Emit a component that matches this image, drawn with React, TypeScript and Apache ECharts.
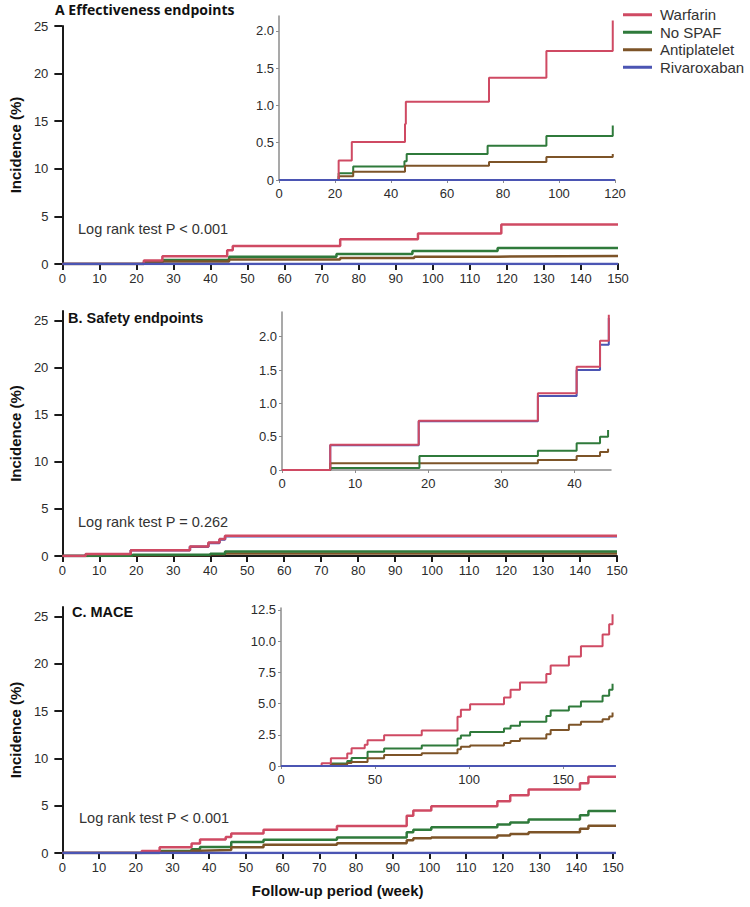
import React, { useEffect, useRef } from 'react';
import * as echarts from 'echarts';

// ---------- data ----------
const seriesNames = ['Warfarin', 'No SPAF', 'Antiplatelet', 'Rivaroxaban'];
const seriesColors = ['#cf4a63', '#2f7a3b', '#7d5428', '#4b55b3'];

const mainXTicks = [0, 10, 20, 30, 40, 50, 60, 70, 80, 90, 100, 110, 120, 130, 140, 150];
const mainYTicks = [0, 5, 10, 15, 20, 25];
const insetAXTicks = [0, 20, 40, 60, 80, 100, 120];
const insetAYTicks = [0, 0.5, 1.0, 1.5, 2.0];
const insetBXTicks = [0, 10, 20, 30, 40];
const insetBYTicks = [0, 0.5, 1.0, 1.5, 2.0];
const insetCXTicks = [0, 50, 100, 150];
const insetCYTicks = [0, 2.5, 5.0, 7.5, 10.0, 12.5];

// Panel A – effectiveness endpoints (main, weeks 0–150)
const aWarfarin = [[0, 0], [22, 0.38], [27, 0.82], [44.5, 1.45], [46, 1.9], [75, 2.6], [96, 3.2], [118.5, 4.15], [150, 4.15]];
const aNoSpaf = [[0, 0], [22, 0.2], [27, 0.42], [45, 0.75], [74, 1.05], [94.5, 1.37], [117.5, 1.68], [150, 1.68]];
const aAntiplatelet = [[0, 0], [22, 0.12], [27, 0.25], [45, 0.48], [75, 0.63], [95, 0.77], [117.5, 0.84], [150, 0.84]];
const aRivaroxaban = [[0, 0], [150, 0]];

// Panel A – inset (weeks 0–120)
const aiWarfarin = [[0, 0], [21.3, 0.26], [26, 0.51], [45, 0.75], [45.3, 1.05], [75, 1.37], [95.5, 1.73], [119.2, 2.14]];
const aiNoSpaf = [[0, 0], [21.3, 0.09], [26.5, 0.18], [44.8, 0.25], [45.6, 0.35], [74.5, 0.46], [95.5, 0.59], [119.2, 0.73]];
const aiAntiplatelet = [[0, 0], [21.3, 0.05], [26.5, 0.11], [45, 0.19], [75, 0.24], [95.5, 0.31], [119.2, 0.35]];
const aiRivaroxaban = [[0, 0], [120, 0]];

// Panel B – safety endpoints (main)
const bWarfarin = [[0, 0], [6.3, 0.2], [18.5, 0.62], [34.5, 1.0], [39.5, 1.42], [42.5, 1.8], [44, 2.15], [150, 2.15]];
const bNoSpaf = [[0, 0], [7, 0.03], [19, 0.12], [40, 0.25], [44, 0.48], [150, 0.48]];
const bAntiplatelet = [[0, 0], [7, 0.08], [19, 0.1], [40, 0.18], [44, 0.26], [150, 0.26]];
const bRivaroxaban = [[0, 0], [6.3, 0.19], [18.5, 0.6], [34.5, 0.97], [39.5, 1.38], [42.5, 1.75], [44, 2.1], [150, 2.1]];

// Panel B – inset (weeks 0–45)
const biWarfarin = [[0, 0], [6.6, 0.38], [18.7, 0.74], [35, 1.15], [40.3, 1.55], [43.5, 1.94], [44.7, 2.33]];
const biNoSpaf = [[0, 0], [6.6, 0.03], [18.8, 0.21], [35, 0.29], [40.3, 0.4], [43.5, 0.5], [44.6, 0.6]];
const biAntiplatelet = [[0, 0], [6.6, 0.1], [18.8, 0.1], [35, 0.15], [40.3, 0.21], [43.5, 0.27], [44.6, 0.32]];
const biRivaroxaban = [[0, 0], [6.6, 0.37], [18.7, 0.73], [35, 1.11], [40.3, 1.5], [43.5, 1.88], [44.7, 2.28]];

// Panel C – MACE (main shows weeks 0–150, inset shows the full follow-up)
const cWarfarin = [[0, 0], [21.6, 0.22], [26.5, 0.62], [35.2, 1.0], [37.5, 1.42], [44.5, 1.7], [46, 2.06], [54.8, 2.47], [74.8, 2.85], [93.8, 3.95], [95.6, 4.5], [100.5, 4.95], [118.5, 5.48], [122, 6.1], [127, 6.7], [141, 7.38], [143.3, 8.06], [153, 8.78], [159.4, 9.6], [170.9, 10.54], [174.4, 11.35], [176.2, 12.15]];
const cNoSpaf = [[0, 0], [26.5, 0.2], [35.2, 0.4], [37.5, 0.64], [46, 1.15], [54.8, 1.4], [74.8, 1.65], [93.8, 2.2], [95.6, 2.45], [100.5, 2.72], [118.5, 3.0], [122, 3.22], [127, 3.55], [141, 4.0], [143.3, 4.45], [153, 4.76], [159.4, 5.17], [170.9, 5.63], [174.4, 6.1], [176.2, 6.6]];
const cAntiplatelet = [[0, 0], [26.5, 0.12], [35.2, 0.25], [37.5, 0.32], [46, 0.62], [54.8, 0.88], [74.8, 1.02], [93.8, 1.35], [95.6, 1.55], [100.5, 1.65], [118.5, 1.85], [122, 2.0], [127, 2.2], [141, 2.55], [143.3, 2.88], [153, 3.3], [159.4, 3.55], [170.9, 3.75], [174.4, 3.96], [176.2, 4.28]];
const cRivaroxaban = [[0, 0], [178, 0]];

const panelTitles = ['A Effectiveness endpoints', 'B. Safety endpoints', 'C. MACE'];
const logRankTexts = ['Log rank test P < 0.001', 'Log rank test P = 0.262', 'Log rank test P < 0.001'];
const yAxisTitle = 'Incidence (%)';
const xAxisTitle = 'Follow-up period (week)';

// ---------- helpers ----------
const FONT = '"Liberation Sans", Arial, sans-serif';
const fmtInset = (v: number) => (v === 0 ? '0' : v.toFixed(1));

function mainX(gridIndex: number, withName: boolean) {
  return {
    type: 'value', gridIndex, min: 0, max: 150, interval: 10,
    splitLine: { show: false },
    axisLine: { show: true, lineStyle: { color: '#1a1a1a', width: 2 } },
    axisTick: { show: true, length: 6, customValues: mainXTicks, lineStyle: { color: '#1a1a1a', width: 2 } },
    axisLabel: { color: '#2b2b2b', fontSize: 13, fontFamily: FONT, margin: 8, customValues: mainXTicks },
    name: withName ? xAxisTitle : '',
    nameLocation: 'middle', nameGap: 30,
    nameTextStyle: { color: '#111', fontSize: 15, fontWeight: 'bold', fontFamily: FONT },
  };
}
function mainY(gridIndex: number, max: number) {
  return {
    type: 'value', gridIndex, min: 0, max,
    splitLine: { show: false },
    axisLine: { show: true, lineStyle: { color: '#1a1a1a', width: 2 } },
    axisTick: { show: true, length: 8, customValues: mainYTicks, lineStyle: { color: '#1a1a1a', width: 2 } },
    axisLabel: { color: '#2b2b2b', fontSize: 13, fontFamily: FONT, margin: 14, customValues: mainYTicks },
    name: yAxisTitle, nameLocation: 'middle', nameGap: 27, nameRotate: 90,
    nameTextStyle: { color: '#111', fontSize: 15, fontWeight: 'bold', fontFamily: FONT },
  };
}
function insetX(gridIndex: number, max: number, ticks: number[]) {
  return {
    type: 'value', gridIndex, min: 0, max,
    splitLine: { show: false },
    axisLine: { show: true, lineStyle: { color: '#8c8c8c', width: 1.5 } },
    axisTick: { show: true, length: 3, customValues: ticks, lineStyle: { color: '#8c8c8c' } },
    axisLabel: { color: '#2b2b2b', fontSize: 13, fontFamily: FONT, margin: 7, customValues: ticks },
  };
}
function insetY(gridIndex: number, max: number, ticks: number[]) {
  return {
    type: 'value', gridIndex, min: 0, max,
    splitLine: { show: false },
    axisLine: { show: true, lineStyle: { color: '#8c8c8c', width: 1.5 } },
    axisTick: { show: true, length: 3, customValues: ticks, lineStyle: { color: '#8c8c8c' } },
    axisLabel: { color: '#2b2b2b', fontSize: 13, fontFamily: FONT, margin: 5, customValues: ticks, formatter: fmtInset },
  };
}

function panelSeries(axisIndex: number, datasets: number[][][], order: number[], width: number) {
  return order.map((k) => ({
    type: 'line',
    name: seriesNames[k],
    xAxisIndex: axisIndex,
    yAxisIndex: axisIndex,
    data: datasets[k],
    step: 'end',
    symbol: 'none',
    showSymbol: false,
    clip: true,
    lineStyle: { color: seriesColors[k], width },
    itemStyle: { color: seriesColors[k] },
    emphasis: { disabled: true },
  }));
}

export default function App() {
  const ref = useRef<HTMLDivElement>(null);
  useEffect(() => {
    document.body.style.margin = '0';
    if (!ref.current) return;
    const chart = echarts.init(ref.current, undefined, { renderer: 'svg' });

    const topOrder = [1, 2, 0, 3]; // blue on top
    const bOrder = [3, 2, 1, 0]; // red over blue in safety panel

    const option = {
      animation: false,
      backgroundColor: '#ffffff',
      grid: [
        { left: 55, top: 26, width: 563, height: 238 },
        { left: 279, top: 16, width: 336, height: 164 },
        { left: 55, top: 311, width: 562, height: 245 },
        { left: 282, top: 312, width: 329, height: 158 },
        { left: 56, top: 607, width: 557, height: 246 },
        { left: 281, top: 608, width: 334, height: 158 },
      ],
      xAxis: [
        mainX(0, false),
        insetX(1, 120, insetAXTicks),
        mainX(2, false),
        insetX(3, 45, insetBXTicks),
        mainX(4, true),
        insetX(5, 177.5, insetCXTicks),
      ],
      yAxis: [
        mainY(0, 25),
        insetY(1, 2.2, insetAYTicks),
        mainY(2, 26),
        insetY(3, 2.37, insetBYTicks),
        mainY(4, 26),
        insetY(5, 12.66, insetCYTicks),
      ],
      legend: {
        data: seriesNames,
        orient: 'vertical',
        left: 623,
        top: 6,
        padding: 0,
        itemGap: 0,
        itemWidth: 29,
        itemHeight: 3,
        icon: 'rect',
        selectedMode: false,
        textStyle: { color: '#333', fontSize: 15, lineHeight: 17.5, fontFamily: FONT, padding: [0, 0, 0, 3] },
      },
      series: [
        ...panelSeries(0, [aWarfarin, aNoSpaf, aAntiplatelet, aRivaroxaban], topOrder, 2.5),
        ...panelSeries(1, [aiWarfarin, aiNoSpaf, aiAntiplatelet, aiRivaroxaban], topOrder, 2),
        ...panelSeries(2, [bWarfarin, bNoSpaf, bAntiplatelet, bRivaroxaban], bOrder, 2.5),
        ...panelSeries(3, [biWarfarin, biNoSpaf, biAntiplatelet, biRivaroxaban], bOrder, 2),
        ...panelSeries(4, [cWarfarin, cNoSpaf, cAntiplatelet, cRivaroxaban], topOrder, 2.5),
        ...panelSeries(5, [cWarfarin, cNoSpaf, cAntiplatelet, cRivaroxaban], topOrder, 2),
      ],
      graphic: [
        { type: 'text', x: 55, y: 9, style: { text: panelTitles[0], font: 'bold 14px "Open Sans", sans-serif', fill: '#111', verticalAlign: 'middle' } },
        { type: 'text', x: 68, y: 318, style: { text: panelTitles[1], font: 'bold 14.5px "Liberation Sans", Arial, sans-serif', fill: '#111', verticalAlign: 'middle' } },
        { type: 'text', x: 72, y: 612, style: { text: panelTitles[2], font: 'bold 14.5px "Liberation Sans", Arial, sans-serif', fill: '#111', verticalAlign: 'middle' } },
        { type: 'text', x: 78, y: 229, style: { text: logRankTexts[0], font: '14.5px "Liberation Sans", Arial, sans-serif', fill: '#333', verticalAlign: 'middle' } },
        { type: 'text', x: 78, y: 522, style: { text: logRankTexts[1], font: '14.5px "Liberation Sans", Arial, sans-serif', fill: '#333', verticalAlign: 'middle' } },
        { type: 'text', x: 79, y: 818, style: { text: logRankTexts[2], font: '14.5px "Liberation Sans", Arial, sans-serif', fill: '#333', verticalAlign: 'middle' } },
      ],
    };
    chart.setOption(option as any);
    return () => chart.dispose();
  }, []);
  return <div ref={ref} style={{ position: 'absolute', left: 0, top: 0, width: 750, height: 907 }} />;
}
